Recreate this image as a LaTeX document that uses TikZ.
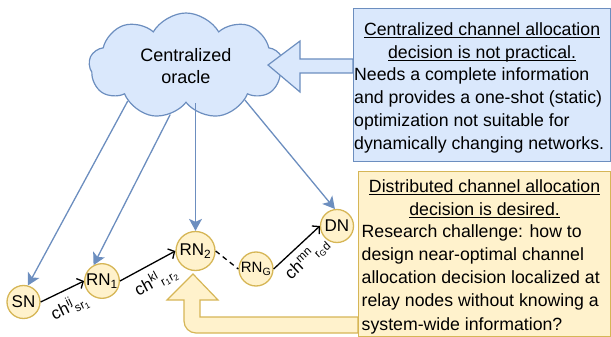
\documentclass[tikz,border=0pt]{standalone}
\usepackage{fontspec}
\setmainfont{Liberation Sans}
\usetikzlibrary{arrows.meta,shapes.symbols}
\definecolor{oraclefill}{HTML}{DAE8FC}
\definecolor{oracleline}{HTML}{6C8EBF}
\definecolor{relayfill}{HTML}{FFF2CC}
\definecolor{relayline}{HTML}{D6B656}
\newcommand{\ulbar}[1]{\setbox0\hbox{#1}\rlap{\rule[-2.8pt]{\wd0}{1.2pt}}\box0}

\begin{document}
\begin{tikzpicture}[x=1pt,y=-1pt]
\tikzstyle{main}=[circle, draw=relayline, fill=relayfill, line width=1.3pt, inner sep=0pt, font={\fontsize{17}{20}\selectfont}]
\tikzstyle{feed}=[-{Stealth[length=12pt,width=13pt,inset=3pt]}, draw=oracleline, line width=1.3pt]
\tikzstyle{hop}=[-{Straight Barb[length=5pt,width=11pt]}, line width=1.3pt]
\tikzstyle{box}=[rectangle, line width=1.2pt, anchor=north west, inner sep=0pt]
\tikzstyle{txt}=[inner sep=0pt, font={\fontsize{17.7}{23.3}\selectfont}]
\tikzstyle{chan}=[sloped, below, inner sep=7pt, font={\fontsize{17}{20}\selectfont}]
  \useasboundingbox (0,0) rectangle (611,337);
  \node[cloud, cloud puffs=9, cloud puff arc=120, cloud ignores aspect, inner sep=0pt, draw=oracleline, fill=oraclefill, line width=1.2pt, minimum width=194pt, minimum height=106pt, align=center, font={\fontsize{18}{22}\selectfont}] (oracle) at (186,66) {Centralized\\oracle};

  \node[main, minimum size=33pt] (SN) at (23.5,302) {SN};
  \node[main, minimum size=32pt] (RN1) at (102,281) {RN\textsubscript{1}};
  \node[main, minimum size=39pt] (RN2) at (195.5,251) {RN\textsubscript{2}};
  \node[main, minimum size=34pt, font={\fontsize{15}{18}\selectfont}] (RNG) at (256,269) {RN\textsubscript{G}};
  \node[main, minimum size=33pt] (DN) at (337,226) {DN};

  \draw[feed] (oracle.211) -- (SN.75);
  \draw[feed] (oracle.252) -- (RN1.118);
  \draw[feed] (RN2 |- oracle.south) -- (RN2);
  \draw[feed] (oracle.330) -- (DN.97);

  \draw[hop] (SN.east) -- node[chan] {ch\textsuperscript{ij}\textsubscript{sr\textsubscript{1}}} (RN1.west);
  \draw[hop] (RN1.east) -- node[chan] {ch\textsuperscript{kl}\textsubscript{r\textsubscript{1}r\textsubscript{2}}} (RN2.west);
  \draw[dash pattern=on 5pt off 4pt, line width=1.3pt] (RN2.east) -- (RNG.west);
  \draw[hop] (RNG.east) -- node[chan] {ch\textsuperscript{mn}\textsubscript{r\textsubscript{G}d}} (DN.west);

  \draw[draw=oracleline, fill=oraclefill, line width=1.2pt] (353,59) -- (300,59) -- (300,41) -- (268,65) -- (300,92) -- (300,73) -- (353,73) -- cycle;
  \node[box, draw=oracleline, fill=oraclefill, minimum width=257pt, minimum height=153pt] (centralbox) at (353,8) {};
  \node[txt, anchor=north, align=center] (centralhead) at ([yshift=-14pt]centralbox.north) {\ulbar{Centralized channel allocation}\\\ulbar{decision is not practical.}};
  \node[txt, anchor=north west, align=left] (centralbody) at ([xshift=1pt,yshift=-59pt]centralbox.north west) {Needs a complete information\\and provides a one-shot (static)\\optimization not suitable for\\dynamically changing networks.};

  \draw[draw=relayline, fill=relayfill, line width=1.2pt] (358,317) -- (200,317) -- (200,300) -- (218,300) -- (193,274) -- (167,300) -- (184,300) -- (184,321) arc[start angle=180, end angle=90, radius=12] -- (358,333) -- cycle;
  \node[box, draw=relayline, fill=relayfill, minimum width=252pt, minimum height=165pt] (distbox) at (358,171) {};
  \node[txt, anchor=north, align=center] (disthead) at ([yshift=-8pt]distbox.north) {\ulbar{Distributed channel allocation}\\\ulbar{decision is desired.}};
  \node[txt, anchor=north west, align=left] (distbody) at ([xshift=3.5pt,yshift=-53pt]distbox.north west) {Research challenge: how to\\design near-optimal channel\\allocation decision localized at\\relay nodes without knowing a\\system-wide information?};
\end{tikzpicture}
\end{document}
